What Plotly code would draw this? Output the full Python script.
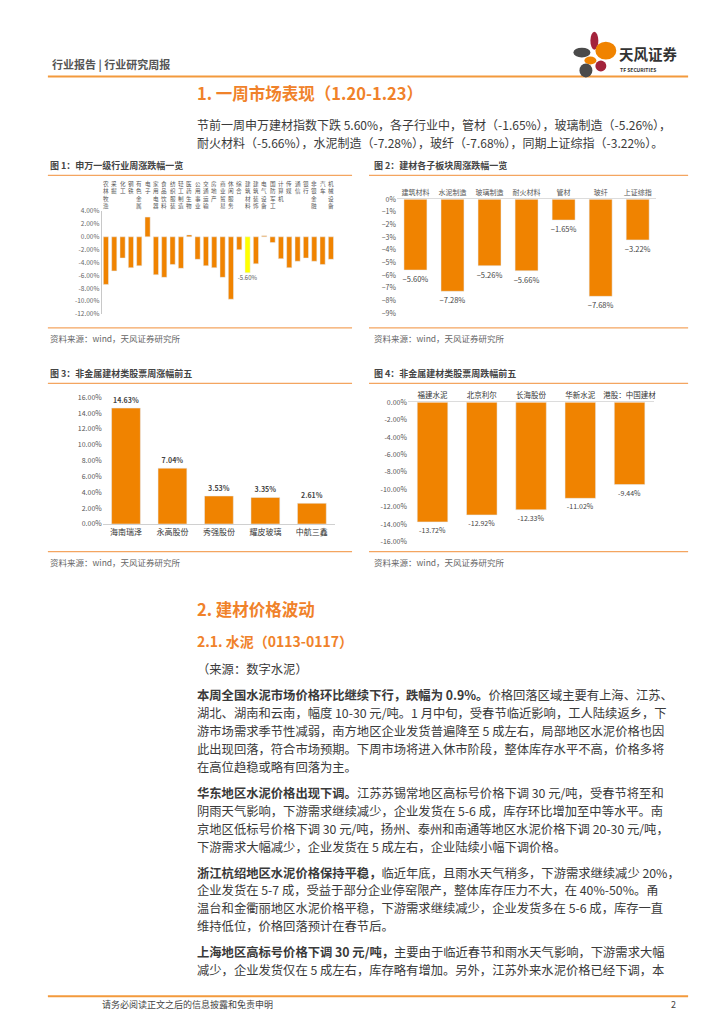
import plotly.graph_objects as go

W, H = 724, 1024
def X(p): return p / W
def Y(p): return 1 - p / H

FONT = "Noto Sans CJK SC"
BAR = "#f08300"
HL = "#ffff00"
OLINE = "#f4a560"
TXT = "#3a3a3a"

# ---------------- data ----------------
sw_industries = ["农林牧渔", "采掘", "化工", "钢铁", "有色金属", "电子", "家用电器", "食品饮料",
                 "纺织服装", "轻工制造", "医药生物", "公用事业", "交通运输", "房地产", "商业贸易",
                 "休闲服务", "综合", "建筑材料", "建筑装饰", "电气设备", "国防军工", "计算机",
                 "传媒", "通信", "银行", "非银金融", "汽车", "机械设备"]
sw_changes = [-7.4, -5.3, -3.3, -4.8, -4.5, 3.06, -5.9, -6.3, -4.3, -4.9, 0.3, -3.5, -4.5, -4.8,
              -6.3, -9.7, -2.0, -5.60, -4.2, 0.15, -0.9, -3.4, -4.8, -3.8, -3.3, -3.8, -4.3, -3.5]
sw_highlight = "建筑材料"
sw_ticks = [-12, -10, -8, -6, -4, -2, 0, 2, 4]

sub_sectors = ["建筑材料", "水泥制造", "玻璃制造", "耐火材料", "管材", "玻纤", "上证综指"]
sub_changes = [-5.60, -7.28, -5.26, -5.66, -1.65, -7.68, -3.22]
sub_ticks = [0, -1, -2, -3, -4, -5, -6, -7, -8, -9]

gainers = ["海南瑞泽", "永高股份", "秀强股份", "耀皮玻璃", "中航三鑫"]
gainer_changes = [14.63, 7.04, 3.53, 3.35, 2.61]
gain_ticks = [0, 2, 4, 6, 8, 10, 12, 14, 16]

losers = ["福建水泥", "北京利尔", "长海股份", "华新水泥", "港股：中国建材"]
loser_changes = [-13.72, -12.92, -12.33, -11.02, -9.44]
loss_ticks = [0, -2, -4, -6, -8, -10, -12, -14, -16]

# ---------------- traces ----------------
fig = go.Figure()

colors1 = [HL if c == sw_highlight else BAR for c in sw_industries]
text1 = [f"{v:.2f}%" if c == sw_highlight else "" for c, v in zip(sw_industries, sw_changes)]
fig.add_trace(go.Bar(x=sw_industries, y=sw_changes, marker_color=colors1, text=text1,
                     textposition="outside", cliponaxis=False, constraintext="none",
                     textfont=dict(size=6, color="#555"), xaxis="x", yaxis="y"))

fig.add_trace(go.Bar(x=sub_sectors, y=sub_changes, marker_color=BAR,
                     text=[f"−{abs(v):.2f}%" for v in sub_changes], textposition="outside",
                     cliponaxis=False, constraintext="none", textfont=dict(size=7.5, color="#444"),
                     xaxis="x2", yaxis="y2"))

fig.add_trace(go.Bar(x=gainers, y=gainer_changes, marker_color=BAR,
                     text=[f"<b>{v:.2f}%</b>" for v in gainer_changes], textposition="outside",
                     cliponaxis=False, constraintext="none", textfont=dict(size=7, color="#444"),
                     xaxis="x3", yaxis="y3"))

fig.add_trace(go.Bar(x=losers, y=loser_changes, marker_color=BAR,
                     text=[f"{v:.2f}%" for v in loser_changes], textposition="outside",
                     cliponaxis=False, constraintext="none", textfont=dict(size=7, color="#444"),
                     xaxis="x4", yaxis="y4"))

fig.update_traces(showlegend=False, hoverinfo="skip")

ax_common = dict(showgrid=False, zeroline=False, ticks="", fixedrange=True)

layout = dict(
    width=W, height=H, margin=dict(l=0, r=0, t=0, b=0),
    paper_bgcolor="white", plot_bgcolor="white",
    font=dict(family=FONT, color=TXT), bargap=0.38, showlegend=False,
    xaxis=dict(domain=[X(94), X(328)], anchor="y", side="top", showticklabels=False,
               showline=False, **ax_common),
    yaxis=dict(domain=[Y(303), Y(199)], anchor="x", range=[-12, 4], tickmode="array",
               tickvals=sw_ticks, ticktext=[f"{v:.2f}%" for v in sw_ticks],
               tickfont=dict(size=6.5, color="#666"), showline=True, linecolor="#c8c8c8",
               **ax_common),
    xaxis2=dict(domain=[X(390), X(650)], anchor="y2", side="top",
                tickfont=dict(size=7, color="#555"), showline=True, linecolor="#dcdcdc",
                **ax_common),
    yaxis2=dict(domain=[Y(302), Y(187)], anchor="x2", range=[-9, 0], tickmode="array",
                tickvals=sub_ticks, ticktext=[("−" if v < 0 else "") + f"{abs(v)}%" for v in sub_ticks],
                tickfont=dict(size=7, color="#555"), showline=False, **ax_common),
    xaxis3=dict(domain=[X(95), X(328)], anchor="y3", side="bottom",
                tickfont=dict(size=8, color="#333"), showline=True, linecolor="#d0d0d0",
                **ax_common),
    yaxis3=dict(domain=[Y(515), Y(387)], anchor="x3", range=[0, 16], tickmode="array",
                tickvals=gain_ticks, ticktext=[f"{v:.2f}%" for v in gain_ticks],
                tickfont=dict(size=7, color="#555"), showline=False, **ax_common),
    xaxis4=dict(domain=[X(401), X(648)], anchor="y4", side="top",
                tickfont=dict(size=7.5, color="#333"), showline=True, linecolor="#dcdcdc",
                **ax_common),
    yaxis4=dict(domain=[Y(533), Y(392)], anchor="x4", range=[-16, 0], tickmode="array",
                tickvals=loss_ticks, ticktext=[f"{v:.2f}%" for v in loss_ticks],
                tickfont=dict(size=7, color="#555"), showline=False, **ax_common),
)
fig.update_layout(**layout)

# ---------------- page text ----------------
ann = []
def txt(x, y, s, size=12.3, color=TXT, anchor="left", bold=False):
    if bold:
        s = f"<b>{s}</b>"
    ann.append(dict(x=X(x), y=Y(y), xref="paper", yref="paper", text=s, showarrow=False,
                    xanchor=anchor, yanchor="middle", font=dict(size=size, color=color, family=FONT)))

# vertical category labels of chart 1 (top-aligned, stacked characters)
for c in sw_industries:
    ann.append(dict(x=c, xref="x", y=Y(167), yref="paper", text="<br>".join(list(c)),
                    showarrow=False, xanchor="center", yanchor="top", borderpad=0,
                    font=dict(size=5.6, color="#555", family=FONT)))

# header
txt(42, 50, "行业报告 | 行业研究周报", size=11, color="#555", bold=True)
txt(611, 40, "天风证券", size=14.5, color="#333", bold=True)
txt(612, 56, "TF SECURITIES", size=5, color="#333", bold=True)

ORG = "#f0822a"
txt(188, 80, "1. 一周市场表现（1.20-1.23）", size=16.5, color=ORG, bold=True)
txt(188, 112, "节前一周申万建材指数下跌 5.60%，各子行业中，管材（-1.65%），玻璃制造（-5.26%），", size=12)
txt(188, 130, "耐火材料（-5.66%），水泥制造（-7.28%），玻纤（-7.68%），同期上证综指（-3.22%）。", size=12)

# chart titles & sources
txt(40, 153, "图 1：申万一级行业周涨跌幅一览", size=9, color="#444", bold=True)
txt(365, 153, "图 2：建材各子板块周涨跌幅一览", size=9, color="#444", bold=True)
txt(40, 363, "图 3：非金属建材类股票周涨幅前五", size=9, color="#444", bold=True)
txt(365, 363, "图 4：非金属建材类股票周跌幅前五", size=9, color="#444", bold=True)
for xx, yy in [(40, 327), (365, 327), (40, 553), (365, 553)]:
    txt(xx, yy, "资料来源：wind，天风证券研究所", size=8.5, color="#666")

# section 2
txt(188, 601, "2. 建材价格波动", size=16.5, color=ORG, bold=True)
txt(188, 633, "2.1. 水泥（0113-0117）", size=14, color=ORG, bold=True)
txt(188, 661, "（来源：数字水泥）", size=12.3)

para = [
    (688, "<b>本周全国水泥市场价格环比继续下行，跌幅为 0.9%。</b>价格回落区域主要有上海、江苏、"),
    (706, "湖北、湖南和云南，幅度 10-30 元/吨。1 月中旬，受春节临近影响，工人陆续返乡，下"),
    (724, "游市场需求季节性减弱，南方地区企业发货普遍降至 5 成左右，局部地区水泥价格也因"),
    (742, "此出现回落，符合市场预期。下周市场将进入休市阶段，整体库存水平不高，价格多将"),
    (760, "在高位趋稳或略有回落为主。"),
    (787, "<b>华东地区水泥价格出现下调。</b>江苏苏锡常地区高标号价格下调 30 元/吨，受春节将至和"),
    (805, "阴雨天气影响，下游需求继续减少，企业发货在 5-6 成，库存环比增加至中等水平。南"),
    (823, "京地区低标号价格下调 30 元/吨，扬州、泰州和南通等地区水泥价格下调 20-30 元/吨，"),
    (841, "下游需求大幅减少，企业发货在 5 成左右，企业陆续小幅下调价格。"),
    (867, "<b>浙江杭绍地区水泥价格保持平稳，</b>临近年底，且雨水天气稍多，下游需求继续减少 20%，"),
    (885, "企业发货在 5-7 成，受益于部分企业停窑限产，整体库存压力不大，在 40%-50%。甬"),
    (903, "温台和金衢丽地区水泥价格平稳，下游需求继续减少，企业发货多在 5-6 成，库存一直"),
    (921, "维持低位，价格回落预计在春节后。"),
    (947, "<b>上海地区高标号价格下调 30 元/吨，</b>主要由于临近春节和雨水天气影响，下游需求大幅"),
    (965, "减少，企业发货仅在 5 成左右，库存略有增加。另外，江苏外来水泥价格已经下调，本"),
]
for yy, s in para:
    txt(188, yy, s, size=12.3)

# footer
txt(92, 1000, "请务必阅读正文之后的信息披露和免责申明", size=9, color="#444")
txt(672, 1000, "2", size=9, color="#444", anchor="right")

fig.update_layout(annotations=ann)

# ---------------- shapes ----------------
shapes = []
def hline(x0, x1, y, color=OLINE, w=1.5):
    shapes.append(dict(type="line", xref="paper", yref="paper", x0=X(x0), x1=X(x1),
                       y0=Y(y), y1=Y(y), line=dict(color=color, width=w)))

hline(40, 682, 63, color="#f39a3c", w=2)
hline(40, 345, 163, w=1.2)
hline(362, 682, 163, w=1.2)
hline(40, 345, 317, w=1.2)
hline(362, 682, 317, w=1.2)
hline(40, 345, 373, w=1.2)
hline(362, 682, 373, w=1.2)
hline(40, 345, 543, w=1.2)
hline(362, 682, 543, w=1.2)
hline(40, 682, 992, color="#f39a3c", w=2)

def ell(x0, x1, y0, y1, color):
    shapes.append(dict(type="circle", xref="paper", yref="paper", x0=X(x0), x1=X(x1),
                       y0=Y(y1), y1=Y(y0), fillcolor=color, line=dict(width=0)))

ell(584, 592, 18, 36, "#a3233c")
ell(567, 584, 34, 44, "#4a4a4a")
ell(589, 610, 28, 46, "#f08300")
ell(578, 590, 43, 51, "#f08300")
ell(589, 600, 47, 58, "#a3233c")
ell(573, 586, 50, 64, "#4a4a4a")

fig.update_layout(shapes=shapes)

fig.write_html("out.html")
